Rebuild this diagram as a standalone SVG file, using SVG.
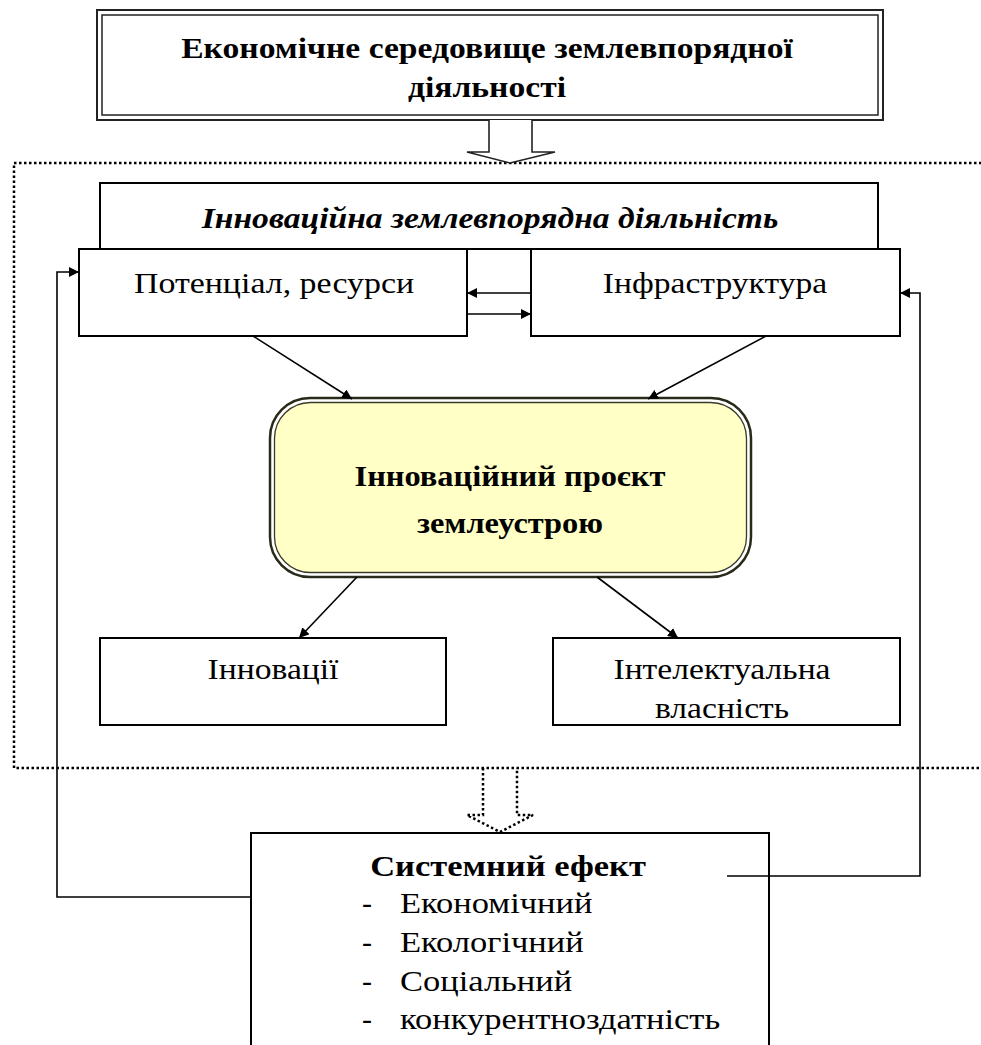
<svg xmlns="http://www.w3.org/2000/svg" width="981" height="1045" viewBox="0 0 981 1045">
<style>
.box{fill:#fff;stroke:#000;stroke-width:2}
.t{font-family:"Liberation Serif","Times New Roman",serif;fill:#000;text-anchor:middle;font-size:30px}
.s{text-anchor:start}
.b{font-weight:bold}
.i{font-style:italic}
.c{fill:none;stroke:#000;stroke-width:1.6}
.dot{fill:none;stroke:#000;stroke-width:2.5;stroke-dasharray:2.5 2.5}
</style>
<defs>
<marker id="ah" viewBox="0 0 10 10" refX="10" refY="5" markerWidth="10" markerHeight="10" markerUnits="userSpaceOnUse" orient="auto">
<path d="M0,0 L10,5 L0,10 Z" fill="#000"/>
</marker>
</defs>
<rect width="981" height="1045" fill="#fff"/>

<g id="frame">
<rect class="dot" x="14" y="163" width="990" height="605"/>
</g>

<g id="env">
<rect x="97" y="10" width="786" height="110" fill="#fff" stroke="#222" stroke-width="2"/>
<rect x="102" y="15" width="776" height="100" fill="none" stroke="#222" stroke-width="1.5"/>
<text class="t b" transform="matrix(1.12 0 0 1 487 0)" x="0" y="58">Економічне середовище землевпорядної</text>
<text class="t b" transform="matrix(1.12 0 0 1 487 0)" x="0" y="97">діяльності</text>
</g>

<g id="innov-activity">
<rect class="box" x="100" y="183" width="778" height="66"/>
<text class="t b i" transform="matrix(1.12 0 0 1 490 0)" x="0" y="228">Інноваційна землевпорядна діяльність</text>
</g>

<g id="potential">
<rect class="box" x="79" y="249" width="388" height="87"/>
<text class="t" transform="matrix(1.13 0 0 1 274 0)" x="0" y="293">Потенціал, ресурси</text>
</g>

<g id="infra">
<rect class="box" x="531" y="249" width="369" height="87"/>
<text class="t" transform="matrix(1.12 0 0 1 715 0)" x="0" y="293">Інфраструктура</text>
</g>

<g id="project">
<rect x="270" y="398" width="481" height="179" rx="40" fill="#fff" stroke="#2a2a1a" stroke-width="2.5"/>
<rect x="274.5" y="402.5" width="472" height="170" rx="36" fill="#FFFFC6" stroke="#3a3a2a" stroke-width="1.3"/>
<text class="t b" transform="matrix(1.08 0 0 1 510 0)" x="0" y="486" font-size="31">Інноваційний проєкт</text>
<text class="t b" transform="matrix(1.08 0 0 1 510 0)" x="0" y="533" font-size="31">землеустрою</text>
</g>

<g id="innovations">
<rect class="box" x="100" y="638" width="346" height="87"/>
<text class="t" transform="matrix(1.12 0 0 1 273 0)" x="0" y="679">Інновації</text>
</g>

<g id="ip">
<rect class="box" x="553" y="638" width="347" height="87"/>
<text class="t" transform="matrix(1.12 0 0 1 722 0)" x="0" y="679">Інтелектуальна</text>
<text class="t" transform="matrix(1.12 0 0 1 722 0)" x="0" y="718">власність</text>
</g>

<g id="effect">
<rect class="box" x="251" y="833" width="518" height="230"/>
<text class="t b" transform="matrix(1.15 0 0 1 508 0)" x="0" y="876" font-size="29">Системний ефект</text>
<text class="t s" x="362" y="913" font-size="29">-</text>
<text class="t s" transform="matrix(1.15 0 0 1 400 0)" x="0" y="913" font-size="29">Економічний</text>
<text class="t s" x="362" y="952" font-size="29">-</text>
<text class="t s" transform="matrix(1.15 0 0 1 400 0)" x="0" y="952" font-size="29">Екологічний</text>
<text class="t s" x="362" y="991" font-size="29">-</text>
<text class="t s" transform="matrix(1.15 0 0 1 400 0)" x="0" y="991" font-size="29">Соціальний</text>
<text class="t s" x="362" y="1029" font-size="29">-</text>
<text class="t s" transform="matrix(1.15 0 0 1 400 0)" x="0" y="1029" font-size="29">конкурентноздатність</text>
</g>

<g id="connectors">
<path d="M489,120 V152 H467 L510,163 L555,152 H532 V120" fill="#fff" stroke="#222" stroke-width="1.6"/>
<path d="M483,768 V815 H467 L500,832 L533,815 H517 V768" class="dot" stroke-width="2"/>
<line class="c" x1="531" y1="293" x2="467" y2="293" marker-end="url(#ah)"/>
<line class="c" x1="467" y1="314" x2="531" y2="314" marker-end="url(#ah)"/>
<line class="c" x1="253" y1="336" x2="352" y2="399" marker-end="url(#ah)"/>
<line class="c" x1="766" y1="336" x2="648" y2="399" marker-end="url(#ah)"/>
<line class="c" x1="357" y1="577" x2="299" y2="638" marker-end="url(#ah)"/>
<line class="c" x1="597" y1="577" x2="678" y2="638" marker-end="url(#ah)"/>
<path class="c" d="M251,897 H57 V272 H79" marker-end="url(#ah)"/>
<path class="c" d="M727,876 H920 V293 H900" marker-end="url(#ah)"/>
</g>
</svg>
